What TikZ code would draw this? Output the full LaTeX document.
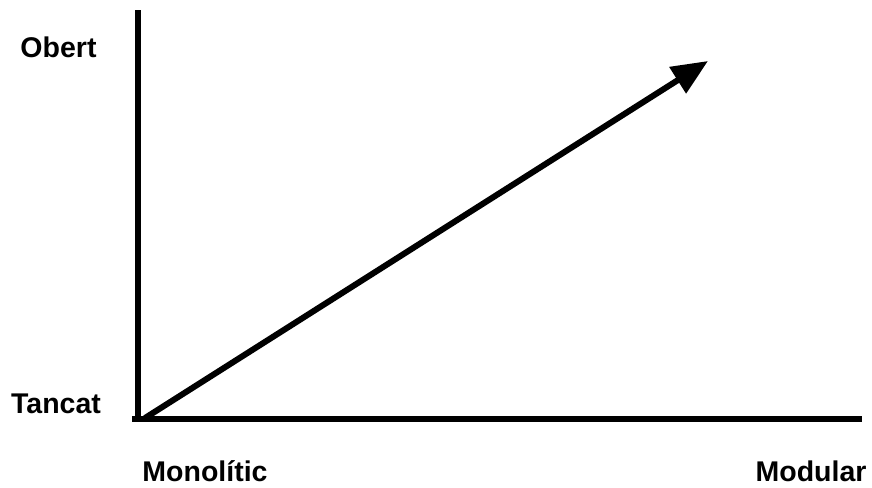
\documentclass[tikz,border=0pt]{standalone}
\usepackage{fontspec}
\setmainfont{Liberation Sans}
\usetikzlibrary{arrows.meta}
\begin{document}
\begin{tikzpicture}[x=1pt,y=-1pt,
  axis/.style={line width=6pt,line cap=rect},
  lbl/.style={font=\fontsize{28.5}{32}\selectfont\bfseries,inner sep=0pt,anchor=base}]
\useasboundingbox (0,0) rectangle (872,487);
\coordinate (top) at (137.5,13);
\coordinate (corner) at (137.5,418.5);
\coordinate (right) at (859,418.5);
\coordinate (start) at (145,418);
\coordinate (tip) at (708,61);
\draw[axis] (top) -- (corner);
\draw[axis] (134.5,418.5) -- (right);
\draw[line width=6pt,-{Triangle[length=36pt,width=30pt]}] (start) -- (tip);
\node[lbl] (obert) at (58.5,58) {Obert};
\node[lbl] (tancat) at (56,413) {Tancat};
\node[lbl] (mono) at (205,481.5) {Monolític};
\node[lbl] (modu) at (811,481.5) {Modular};
\end{tikzpicture}
\end{document}
